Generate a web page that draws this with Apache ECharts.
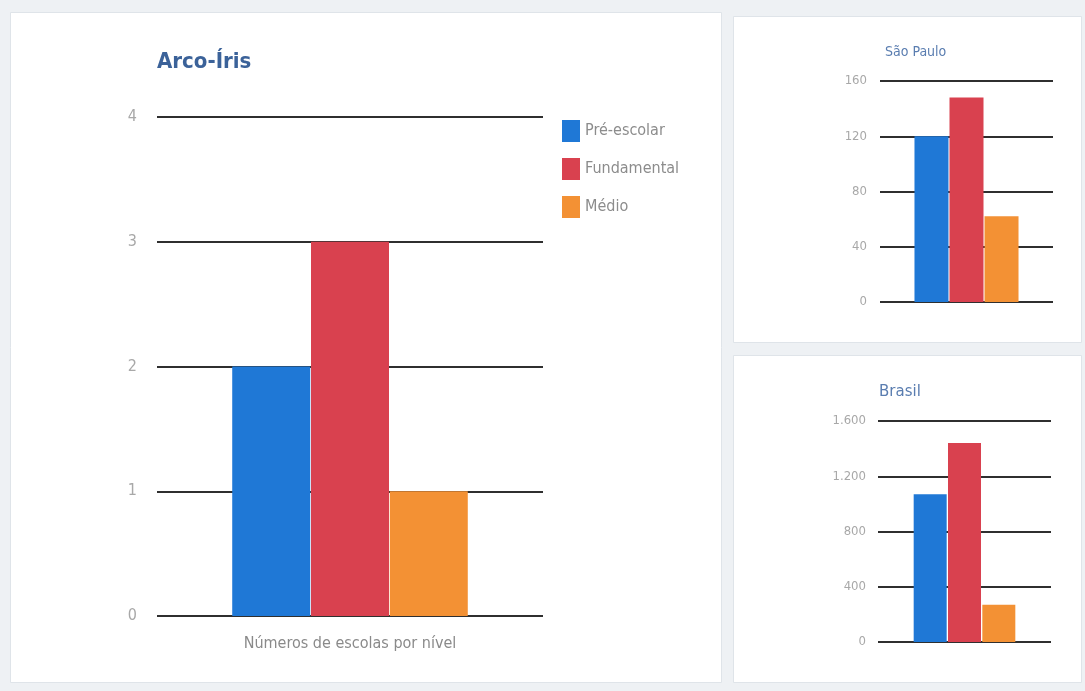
<!DOCTYPE html>
<html>
<head>
<meta charset="utf-8">
<script src="https://cdn.jsdelivr.net/npm/echarts@6/dist/echarts.min.js"></script>
<style>
html, body { margin: 0; padding: 0; background: #eef1f4; }
#chart { width: 1085px; height: 691px; }
</style>
</head>
<body>
<div id="chart"></div>
<script>
// dados
var categories = ['Números de escolas por nível'];
var levels = ['Pré-escolar', 'Fundamental', 'Médio'];
var arcoIris = [2, 3, 1];
var saoPaulo = [120, 148, 62];
var brasil = [1070, 1440, 270];
var colors = ['#1f78d6', '#d9414f', '#f39134'];

var narrow = '"Liberation Sans Narrow", "DejaVu Sans Condensed", "Roboto", sans-serif';
var lineColor = '#2f2f2f';

function thousands(v) {
	return String(v).replace(/\B(?=(\d{3})+(?!\d))/g, '.');
}

function yAxisFor(gridIndex, max, interval, fontSize, margin, fmt) {
	return {
		type: 'value',
		gridIndex: gridIndex,
		min: 0,
		max: max,
		interval: interval,
		axisLine: { show: false },
		axisTick: { show: false },
		axisLabel: {
			color: '#a8a8a8',
			fontSize: fontSize,
			fontFamily: narrow,
			margin: margin,
			formatter: fmt
		},
		splitLine: {
			lineStyle: { color: lineColor, width: 2 }
		}
	};
}

function xAxisFor(gridIndex, showLabel) {
	return {
		type: 'category',
		gridIndex: gridIndex,
		data: categories,
		axisLine: { show: false },
		axisTick: { show: false },
		axisLabel: {
			show: showLabel,
			color: '#8a8a8a',
			fontSize: 16,
			fontFamily: narrow,
			margin: 20
		}
	};
}

var series = [];
var sets = [
	{ data: arcoIris, grid: 0, barWidth: 78, gap: '1%', cat: '39%' },
	{ data: saoPaulo, grid: 1, barWidth: 34, gap: '3%', cat: '40%' },
	{ data: brasil, grid: 2, barWidth: 33, gap: '4%', cat: '40%' }
];
sets.forEach(function(s) {
	levels.forEach(function(name, i) {
		series.push({
			type: 'bar',
			name: name,
			xAxisIndex: s.grid,
			yAxisIndex: s.grid,
			data: [s.data[i]],
			barWidth: s.barWidth,
			barGap: s.gap,
			barCategoryGap: s.cat,
			itemStyle: { color: colors[i] },
			animation: false
		});
	});
});

var panel = function(x, y, w, h) {
	return {
		type: 'rect',
		shape: { x: x, y: y, width: w, height: h },
		style: { fill: '#ffffff', stroke: '#dfe4e9', lineWidth: 1 },
		z: -10,
		silent: true
	};
};

var option = {
	backgroundColor: '#eef1f4',
	animation: false,
	graphic: [
		panel(10.5, 12.5, 711, 670),
		panel(733.5, 16.5, 348, 326),
		panel(733.5, 355.5, 348, 327)
	],
	title: [
		{
			text: 'Arco-Íris',
			left: 152, top: 46,
			textStyle: { color: '#3b6299', fontSize: 22, fontWeight: 'bold', fontFamily: narrow }
		},
		{
			text: 'São Paulo',
			left: 880, top: 40,
			textStyle: { color: '#5a7db0', fontSize: 14, fontWeight: 'normal', fontFamily: narrow }
		},
		{
			text: 'Brasil',
			left: 874, top: 380,
			textStyle: { color: '#5a7db0', fontSize: 15, fontWeight: 'normal', fontFamily: '"DejaVu Sans", sans-serif' }
		}
	],
	legend: {
		orient: 'vertical',
		left: 557, top: 115,
		itemWidth: 18, itemHeight: 22,
		itemGap: 16,
		itemStyle: { borderWidth: 0 },
		icon: 'rect',
		data: levels,
		textStyle: { color: '#8c8c8c', fontSize: 16, fontFamily: narrow }
	},
	grid: [
		{ left: 157, right: 542, top: 117, bottom: 75 },
		{ left: 880, right: 32, top: 81, bottom: 389 },
		{ left: 878, right: 34, top: 421, bottom: 49 }
	],
	xAxis: [xAxisFor(0, true), xAxisFor(1, false), xAxisFor(2, false)],
	yAxis: [
		yAxisFor(0, 4, 1, 16, 20),
		yAxisFor(1, 160, 40, 13, 13),
		yAxisFor(2, 1600, 400, 13, 12, thousands)
	],
	series: series
};

var myChart = echarts.init(document.getElementById('chart'));
myChart.setOption(option);
</script>
</body>
</html>
